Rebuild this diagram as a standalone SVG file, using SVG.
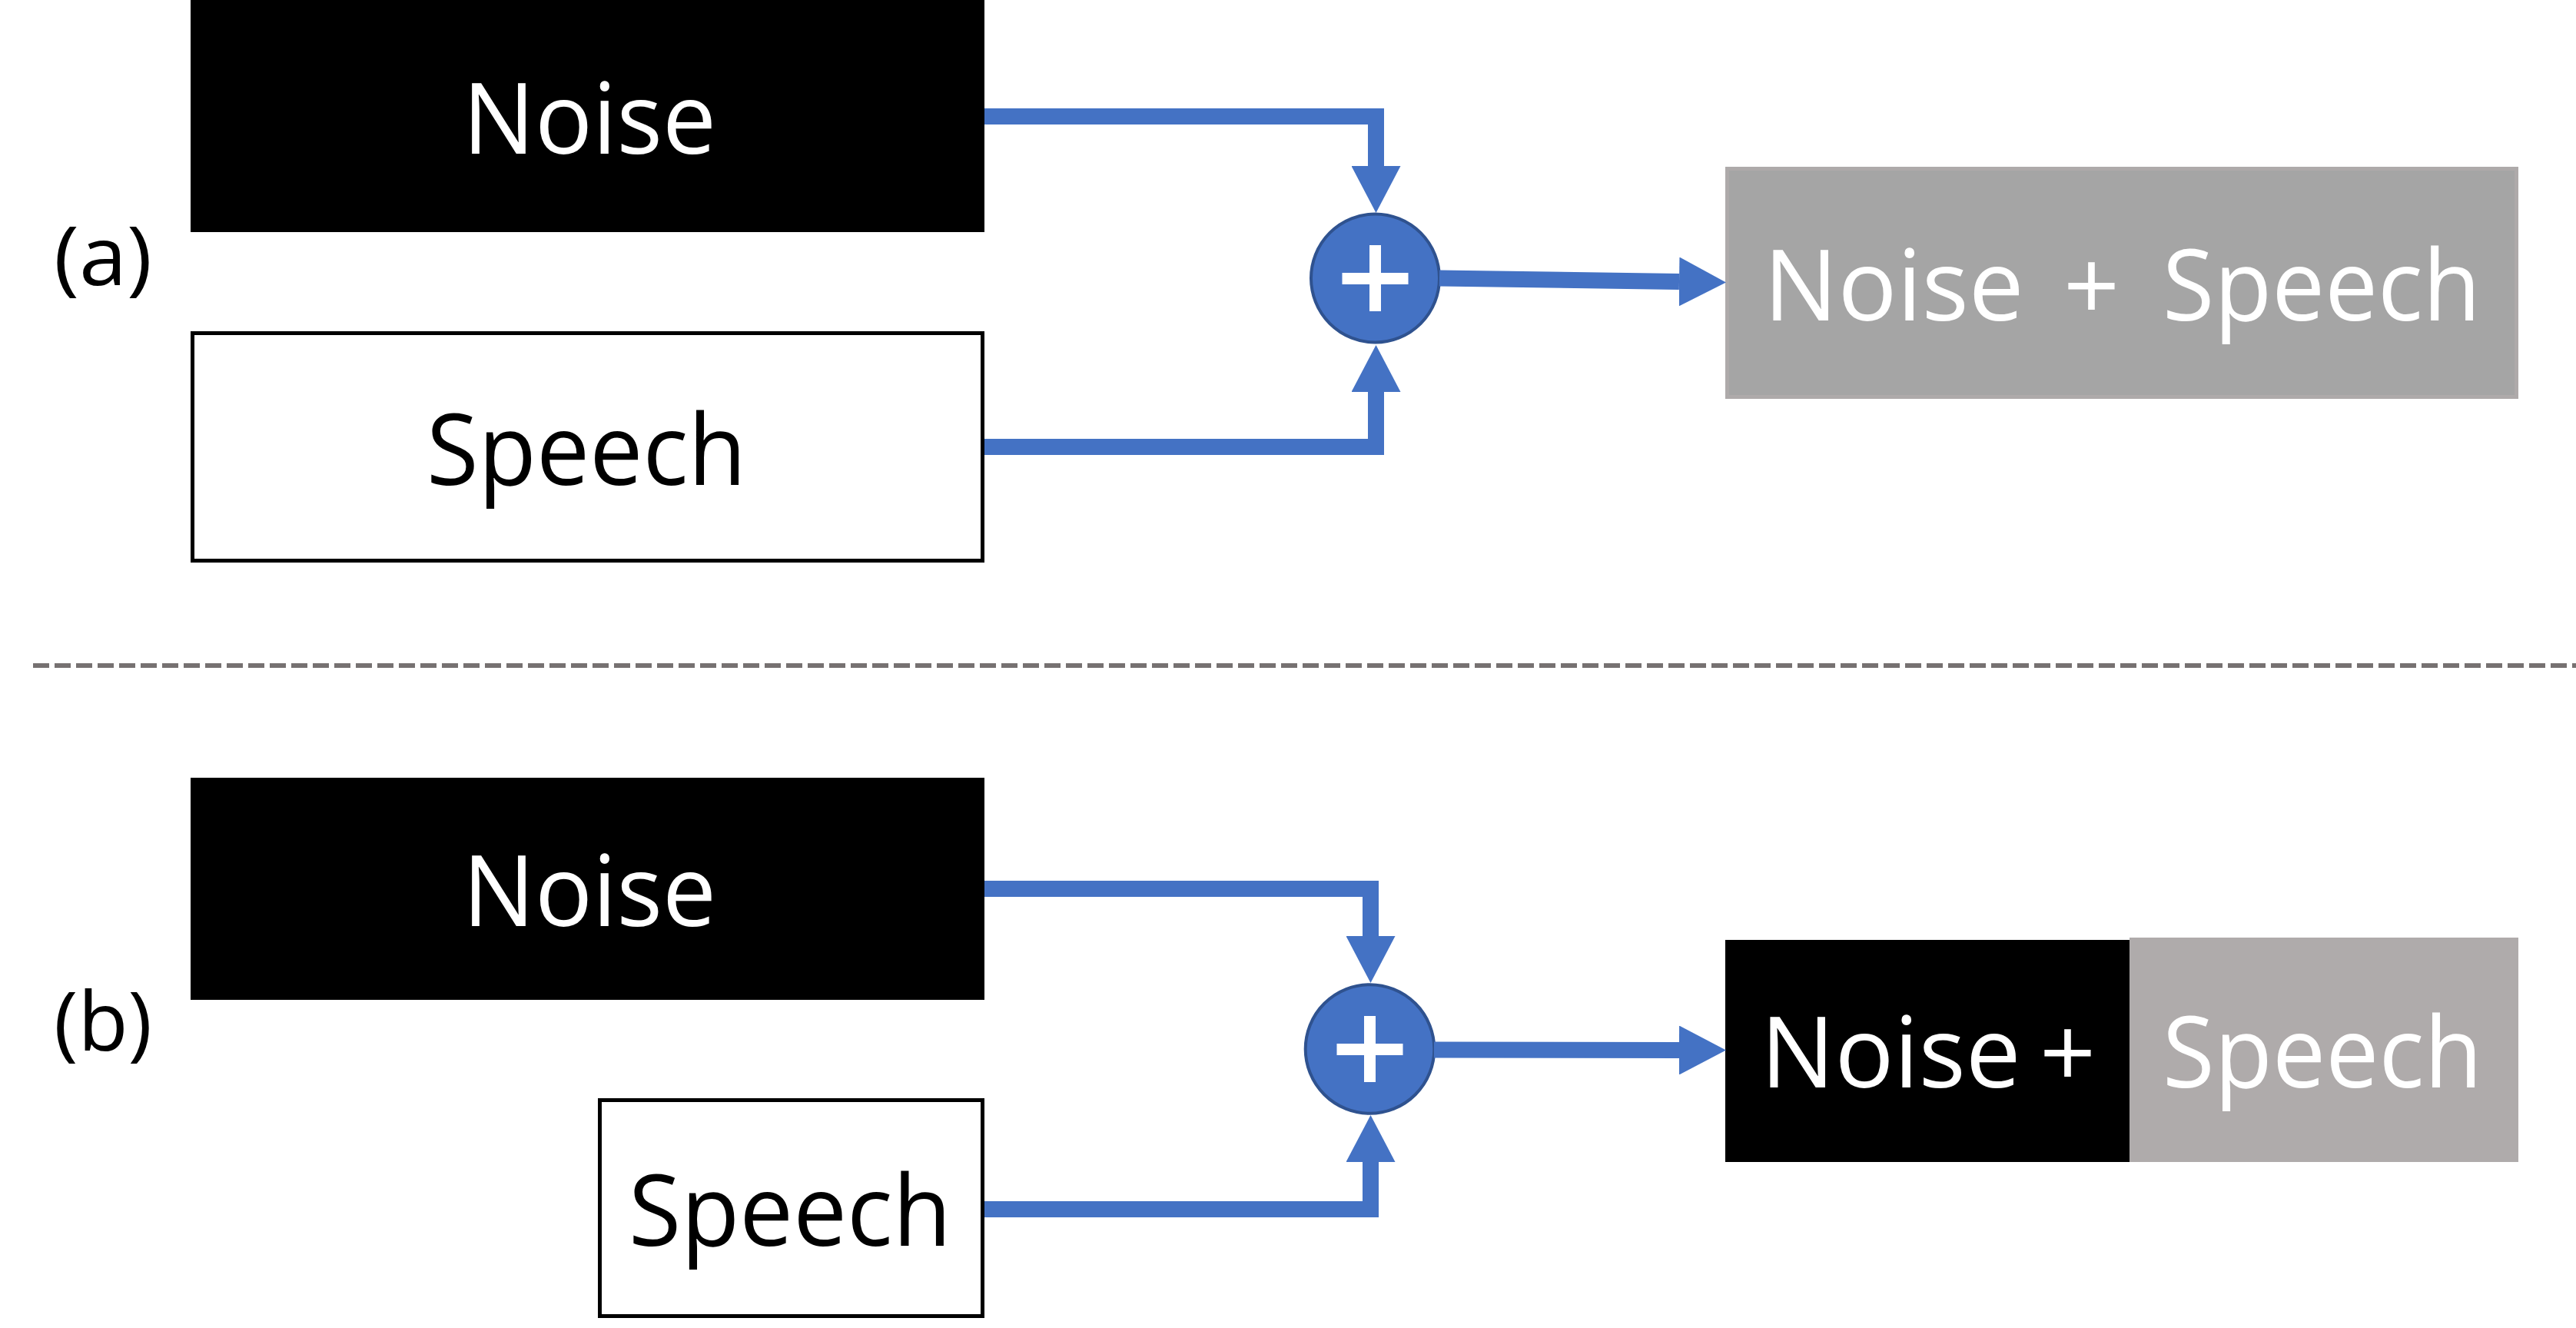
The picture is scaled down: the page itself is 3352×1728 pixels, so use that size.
<svg xmlns="http://www.w3.org/2000/svg" width="3352" height="1728" viewBox="0 0 3352 1728">
  <style>
    .lbl { font-family: "Open Sans", "Noto Sans", "Liberation Sans", sans-serif; font-size: 128px; }
    .tag { font-family: "Open Sans", "Noto Sans", "Liberation Sans", sans-serif; font-size: 106px; fill: #000000; text-anchor: middle; }
    .w { fill: #FFFFFF; }
    .k { fill: #000000; }
    .mid { text-anchor: middle; }
    .conn { fill: none; stroke: #4472C4; stroke-width: 21; stroke-linejoin: miter; stroke-linecap: butt; }
    .sum { fill: #4472C4; stroke: #2F528F; stroke-width: 4; }
    .plus { fill: #FFFFFF; }
  </style>
  <defs>
    <marker id="ah" markerUnits="userSpaceOnUse" markerWidth="62" markerHeight="64" refX="0" refY="32" orient="auto" viewBox="0 0 62 64">
      <path d="M0,0 L61,32 L0,64 Z" fill="#4472C4"/>
    </marker>
  </defs>

  <rect x="0" y="0" width="3352" height="1728" fill="#FFFFFF"/>

  <!-- separator -->
  <line x1="43" y1="866" x2="3352" y2="866" stroke="#767171" stroke-width="6" stroke-dasharray="21 7"/>

  <!-- (a) -->
  <g id="label-a"><text class="tag" x="134" y="371" textLength="128" lengthAdjust="spacingAndGlyphs">(a)</text></g>
  <g id="noise-a">
    <rect x="248" y="-2" width="1033" height="304" fill="#000000"/>
    <text class="lbl w mid" x="767" y="200" textLength="330" lengthAdjust="spacingAndGlyphs">Noise</text>
  </g>
  <g id="speech-a">
    <rect x="250.5" y="433.5" width="1028" height="296" fill="#FFFFFF" stroke="#000000" stroke-width="5"/>
    <text class="lbl k mid" x="763" y="631" textLength="416" lengthAdjust="spacingAndGlyphs">Speech</text>
  </g>
  <g id="sum-a">
    <circle class="sum" cx="1789.5" cy="362" r="83.5"/>
    <rect class="plus" x="1782" y="319" width="15" height="86"/>
    <rect class="plus" x="1746.5" y="355" width="86" height="15"/>
  </g>
  <g id="mix-a">
    <rect x="2247.5" y="219.5" width="1027" height="297" fill="#A5A5A5" stroke="#AEAAAA" stroke-width="5"/>
    <text class="lbl w" y="417"><tspan x="2295">Noise </tspan><tspan x="2685">+ </tspan><tspan x="2814" textLength="414" lengthAdjust="spacingAndGlyphs">Speech</tspan></text>
  </g>

  <!-- (b) -->
  <g id="label-b"><text class="tag" x="134" y="1367" textLength="128" lengthAdjust="spacingAndGlyphs">(b)</text></g>
  <g id="noise-b">
    <rect x="248" y="1012" width="1033" height="289" fill="#000000"/>
    <text class="lbl w mid" x="767" y="1205" textLength="330" lengthAdjust="spacingAndGlyphs">Noise</text>
  </g>
  <g id="speech-b">
    <rect x="780.5" y="1431.5" width="498" height="281" fill="#FFFFFF" stroke="#000000" stroke-width="5"/>
    <text class="lbl k mid" x="1028" y="1621" textLength="420" lengthAdjust="spacingAndGlyphs">Speech</text>
  </g>
  <g id="sum-b">
    <circle class="sum" cx="1782.5" cy="1365" r="83.8"/>
    <rect class="plus" x="1775" y="1322" width="15" height="86"/>
    <rect class="plus" x="1739.5" y="1358" width="86" height="15"/>
  </g>
  <g id="mix-b">
    <rect x="2245" y="1223" width="526" height="289" fill="#000000"/>
    <rect x="2771" y="1220" width="506" height="292" fill="#AFABAB"/>
    <text class="lbl w" y="1415"><tspan x="2291">Noise </tspan><tspan x="2654">+ </tspan><tspan x="2814" textLength="416" lengthAdjust="spacingAndGlyphs">Speech</tspan></text>
  </g>

  <!-- connectors -->
  <g id="connectors">
    <path class="conn" d="M1281,151.5 H1790.5 V216" marker-end="url(#ah)"/>
    <path class="conn" d="M1281,581.5 H1790.5 V510" marker-end="url(#ah)"/>
    <path class="conn" d="M1873,362 L2185,366.5" marker-end="url(#ah)"/>
    <path class="conn" d="M1281,1156.5 H1783.5 V1218" marker-end="url(#ah)"/>
    <path class="conn" d="M1281,1573.5 H1783.5 V1512" marker-end="url(#ah)"/>
    <path class="conn" d="M1866,1366 L2185,1366.5" marker-end="url(#ah)"/>
  </g>
</svg>
